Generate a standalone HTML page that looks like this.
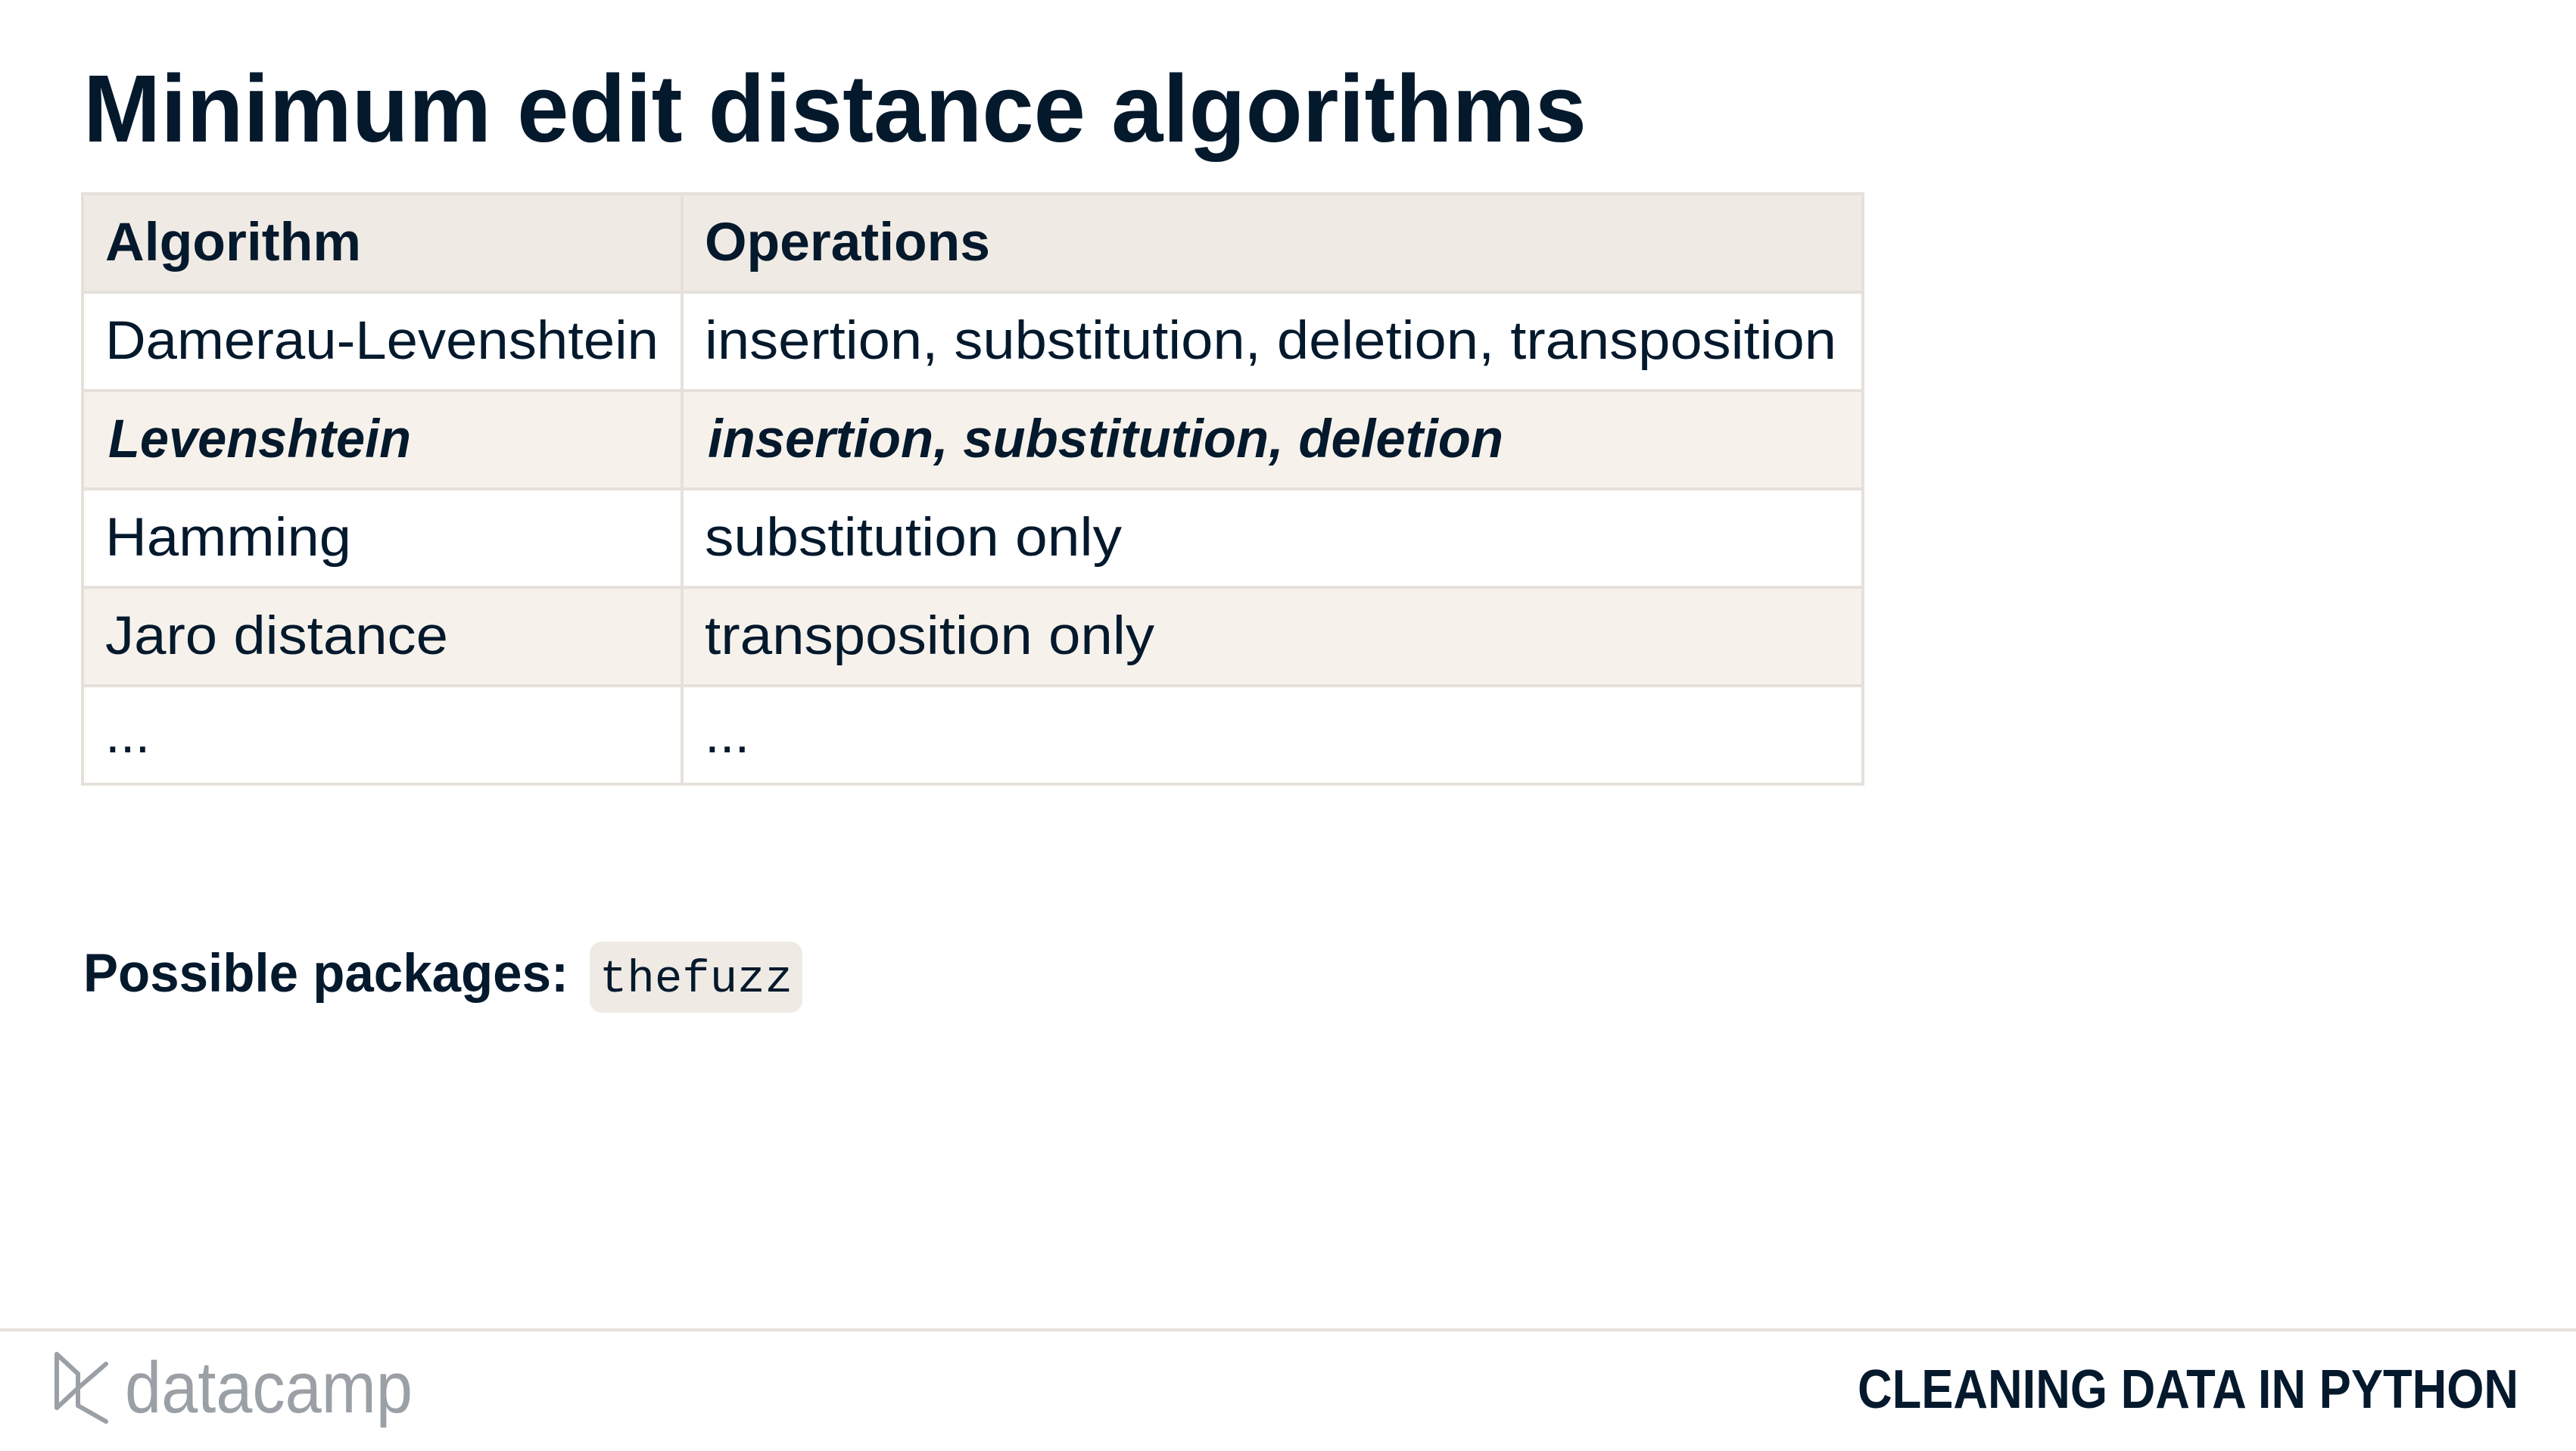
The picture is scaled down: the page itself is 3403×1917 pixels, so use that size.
<!DOCTYPE html>
<html><head><meta charset="utf-8"><style>
html,body{margin:0;padding:0;background:#fff;}
svg{display:block;}
text{font-family:"Liberation Sans",sans-serif;fill:#05192D;}
</style></head><body>
<svg width="3403" height="1917" viewBox="0 0 3403 1917" xmlns="http://www.w3.org/2000/svg">
<text x="110" y="187" font-size="126" font-weight="bold" textLength="1986" lengthAdjust="spacingAndGlyphs">Minimum edit distance algorithms</text>
<g>
<rect x="109" y="256" width="2352" height="130" fill="#EFEBE4"/>
<rect x="109" y="386" width="2352" height="130" fill="#FFFFFF"/>
<rect x="109" y="516" width="2352" height="130" fill="#F6F2EB"/>
<rect x="109" y="646" width="2352" height="130" fill="#FFFFFF"/>
<rect x="109" y="776" width="2352" height="130" fill="#F6F2EB"/>
<rect x="109" y="906" width="2352" height="130" fill="#FFFFFF"/>
<g stroke="#E5E1DA" stroke-width="4" fill="none">
<rect x="109" y="256" width="2352" height="780"/>
<line x1="109" y1="386" x2="2461" y2="386"/>
<line x1="109" y1="516" x2="2461" y2="516"/>
<line x1="109" y1="646" x2="2461" y2="646"/>
<line x1="109" y1="776" x2="2461" y2="776"/>
<line x1="109" y1="906" x2="2461" y2="906"/>
<line x1="901" y1="256" x2="901" y2="1036"/>
</g>
<text x="139" y="344" font-size="71" font-weight="bold" textLength="338" lengthAdjust="spacingAndGlyphs">Algorithm</text>
<text x="931" y="344" font-size="71" font-weight="bold" textLength="377" lengthAdjust="spacingAndGlyphs">Operations</text>
<text x="139" y="474" font-size="71" textLength="731" lengthAdjust="spacingAndGlyphs">Damerau-Levenshtein</text>
<text x="931" y="474" font-size="71" textLength="1495" lengthAdjust="spacingAndGlyphs">insertion, substitution, deletion, transposition</text>
<text x="143" y="604" font-size="71" font-weight="bold" font-style="italic" textLength="400" lengthAdjust="spacingAndGlyphs">Levenshtein</text>
<text x="935" y="604" font-size="71" font-weight="bold" font-style="italic" textLength="1051" lengthAdjust="spacingAndGlyphs">insertion, substitution, deletion</text>
<text x="139" y="734" font-size="71" textLength="325" lengthAdjust="spacingAndGlyphs">Hamming</text>
<text x="931" y="734" font-size="71" textLength="551" lengthAdjust="spacingAndGlyphs">substitution only</text>
<text x="139" y="864" font-size="71" textLength="453" lengthAdjust="spacingAndGlyphs">Jaro distance</text>
<text x="931" y="864" font-size="71" textLength="594" lengthAdjust="spacingAndGlyphs">transposition only</text>
<text x="139" y="994" font-size="71">...</text>
<text x="931" y="994" font-size="71">...</text>
</g>
<text x="110" y="1310" font-size="71" font-weight="bold" textLength="641" lengthAdjust="spacingAndGlyphs">Possible packages:</text>
<rect x="779" y="1244" width="281" height="94" rx="16" fill="#EFEBE4"/>
<text x="792" y="1310" font-size="60" style="font-family:'Liberation Mono',monospace" textLength="255" lengthAdjust="spacingAndGlyphs">thefuzz</text>
<line x1="0" y1="1757" x2="3403" y2="1757" stroke="#E5E1DA" stroke-width="4"/>
<g>
<path d="M75 1789 L75 1860 L103 1834 M75 1789 L103 1815 L103 1857 L140 1878 M103 1834 L140 1802" stroke="#9AA0A6" stroke-width="6" fill="none" stroke-linejoin="round" stroke-linecap="round"/>
<text x="165" y="1866" font-size="96" style="fill:#9AA0A6" textLength="380" lengthAdjust="spacingAndGlyphs">datacamp</text>
</g>
<text x="2454" y="1860" font-size="72" font-weight="bold" textLength="873" lengthAdjust="spacingAndGlyphs">CLEANING DATA IN PYTHON</text>
</svg>
</body></html>
